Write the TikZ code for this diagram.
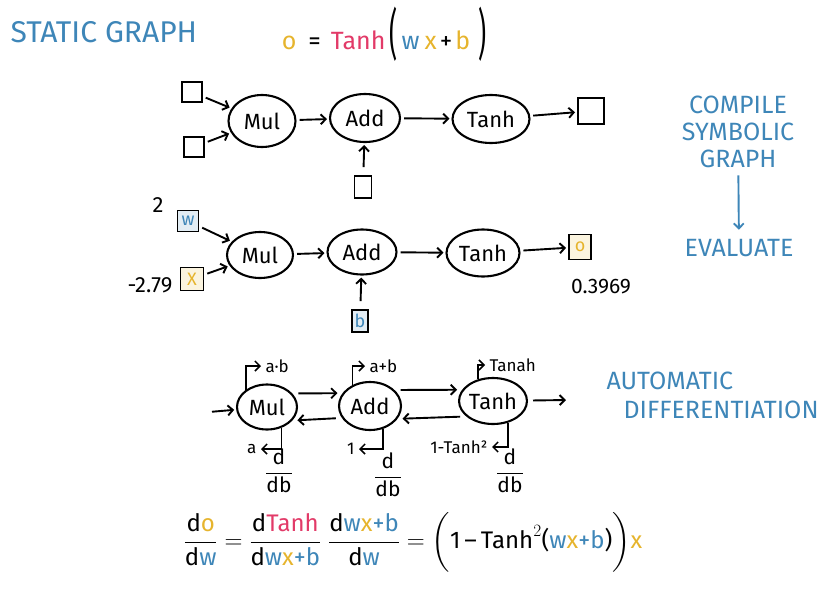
\documentclass[tikz,border=0pt]{standalone}
\usepackage{amsmath}
\usepackage{fontspec}
\setmainfont{Fira Sans}
\usepackage{xcolor}
\usetikzlibrary{arrows.meta,shapes.geometric}
\definecolor{skyblue}{RGB}{62,134,184}
\definecolor{goldy}{RGB}{230,180,45}
\definecolor{rosy}{RGB}{226,58,104}

\begin{document}
\begin{tikzpicture}[x=1pt,y=-1pt,
  op/.style={draw,ellipse,line width=2.1pt,inner sep=0pt,minimum width=68pt,
             minimum height=48pt,font=\fontsize{22}{24}\selectfont},
  box/.style={draw,line width=1.9pt,minimum size=21pt,inner sep=0pt,
              font=\fontsize{18}{18}\selectfont},
  arr/.style={-{Straight Barb[length=5pt,width=10pt]},line width=1.9pt,
              shorten >=2pt,shorten <=3pt},
  note/.style={text=skyblue,align=center,font=\fontsize{25}{27}\selectfont},
  lbl/.style={font=\fontsize{17}{18}\selectfont}]
  \useasboundingbox (0,0) rectangle (835,589);

  \node[note,font=\fontsize{30}{30}\selectfont,anchor=west] (title) at (7,32) {STATIC GRAPH};
  \node[font=\fontsize{25}{26}\selectfont] (formula) at (384,34)
    {\textcolor{goldy}{o}\hspace{12pt}=\hspace{10pt}\textcolor{rosy}{Tanh}\hspace{4pt}\raisebox{-4pt}{\scalebox{1}[2.2]{(}}\,\textcolor{skyblue}{w}\hspace{5pt}\textcolor{goldy}{x}\hspace{3pt}+\hspace{3pt}\textcolor{goldy}{b}\hspace{8pt}\raisebox{-4pt}{\scalebox{1}[2.2]{)}}};

  \node[box,minimum size=20pt] (i1) at (192,92) {};
  \node[box,minimum size=20pt] (i2) at (194,147) {};
  \node[op,minimum width=67pt,minimum height=52pt] (mul1) at (262,121) {Mul};
  \node[op,minimum width=70pt] (add1) at (365,118) {Add};
  \node[op,minimum width=77pt] (tanh1) at (491,119) {Tanh};
  \node[box,minimum size=26pt] (o1) at (591,111) {};
  \node[box,minimum width=17pt,minimum height=22pt] (b1) at (363,187) {};
  \draw[arr] (i1) -- (mul1);
  \draw[arr] (i2) -- (mul1);
  \draw[arr] (mul1) -- (add1);
  \draw[arr] (add1) -- (tanh1);
  \draw[arr] (tanh1) -- (o1);
  \draw[arr,shorten <=8pt] (b1) -- (add1);

  \node[box,fill=skyblue!15,text=skyblue] (w2) at (188,221) {w};
  \node[box,minimum size=23pt,fill=goldy!15,text=goldy] (x2) at (192,279) {X};
  \node[lbl,font=\fontsize{22}{22}\selectfont] (wval) at (158,205) {2};
  \node[lbl,font=\fontsize{22}{22}\selectfont] (xval) at (150,285) {-2.79};
  \node[op,minimum width=66pt,minimum height=46pt] (mul2) at (260,255) {Mul};
  \node[op,minimum width=69pt,minimum height=45pt] (add2) at (362,252) {Add};
  \node[op,minimum width=73pt,minimum height=47pt] (tanh2) at (483,253) {Tanh};
  \node[box,minimum width=22pt,minimum height=25pt,fill=goldy!15,text=goldy] (o2) at (580,247) {o};
  \node[lbl,font=\fontsize{21}{22}\selectfont] (oval) at (601,287) {0.3969};
  \node[box,minimum width=16pt,minimum height=22pt,fill=skyblue!15,text=skyblue] (b2) at (360,321) {b};
  \draw[arr] (w2) -- (mul2);
  \draw[arr] (x2) -- (mul2);
  \draw[arr] (mul2) -- (add2);
  \draw[arr] (add2) -- (tanh2);
  \draw[arr] (tanh2) -- (o2);
  \draw[arr,shorten <=8pt] (b2) -- (add2);

  \node[note] (compile) at (738,132) {COMPILE\\SYMBOLIC\\GRAPH};
  \node[note] (evaluate) at (739,248) {EVALUATE};
  \draw[arr,skyblue,shorten <=4pt,shorten >=6pt] (compile) -- (evaluate);

  \coordinate (in3) at (209,412);
  \coordinate (out3) at (568,400);
  \node[op,minimum width=60pt,minimum height=45pt] (mul3) at (267,407) {Mul};
  \node[op,minimum width=62pt,minimum height=48pt] (add3) at (370,406) {Add};
  \node[op,minimum width=67pt,minimum height=46pt] (tanh3) at (493,401) {Tanh};
  \draw[arr] (in3) -- (mul3);
  \draw[arr,shorten <=6pt,shorten >=5pt] (mul3.28) -- (add3.155);
  \draw[arr,shorten <=6pt,shorten >=5pt] (add3.203) -- (mul3.-28);
  \draw[arr,shorten <=6pt,shorten >=5pt] (add3.33) -- (tanh3.160);
  \draw[arr,shorten <=6pt,shorten >=5pt] (tanh3.210) -- (add3.-25);
  \draw[arr,shorten <=5pt] (tanh3) -- (out3);

  \node[lbl,anchor=west] (fab) at (262,366) {a·b};
  \node[lbl,anchor=west] (fadd) at (366,366) {a+b};
  \node[lbl,anchor=west] (ftanh) at (486,365) {Tanah};
  \draw[arr,line width=1.5pt,shorten <=0pt,shorten >=1pt] (mul3.140) |- (fab.west);
  \draw[arr,line width=1.5pt,shorten <=0pt,shorten >=1pt] (add3.130) |- (fadd.west);
  \draw[arr,line width=1.5pt,shorten <=0pt,shorten >=1pt] (tanh3.125) |- (ftanh.west);

  \node[lbl,anchor=east] (gab) at (260,449) {a};
  \node[lbl,anchor=east] (gadd) at (358,449) {1};
  \node[lbl,anchor=east] (gtanh) at (491,447) {1-Tanh²};
  \draw[arr,line width=1.5pt,shorten <=0pt,shorten >=1pt] (mul3.-55) |- (gab.east);
  \draw[arr,line width=1.5pt,shorten <=0pt,shorten >=1pt] (add3.-60) |- (gadd.east);
  \draw[arr,line width=1.5pt,shorten <=0pt,shorten >=1pt] (tanh3.-55) |- (gtanh.east);
  \node[lbl,font=\fontsize{21}{22}\selectfont] (dmul) at (279,471) {$\dfrac{\text{d}}{\text{db}}$};
  \node[lbl,font=\fontsize{21}{22}\selectfont] (dadd) at (388,475) {$\dfrac{\text{d}}{\text{db}}$};
  \node[lbl,font=\fontsize{21}{22}\selectfont] (dtanh) at (510,471) {$\dfrac{\text{d}}{\text{db}}$};

  \node[note,anchor=west] (auto) at (603,381) {AUTOMATIC};
  \node[note,anchor=west] (diff) at (620,410) {DIFFERENTIATION};

  \node[font=\fontsize{24}{26}\selectfont] (chain) at (413,542)
    {$\dfrac{\text{d\textcolor{goldy}{o}}}{\text{d\textcolor{skyblue}{w}}}
     = \dfrac{\text{d\textcolor{rosy}{Tanh}}}{\text{d\textcolor{skyblue}{w}\textcolor{goldy}{x}\textcolor{skyblue}{+b}}}
     \;\dfrac{\text{d\textcolor{skyblue}{w}\textcolor{goldy}{x}\textcolor{skyblue}{+b}}}{\text{d\textcolor{skyblue}{w}}}
     = \biggl(\text{1\,–\,Tanh}^2\text{(\textcolor{skyblue}{w}\textcolor{goldy}{x}\textcolor{skyblue}{+b})}\biggr)\text{\textcolor{goldy}{x}}$};
\end{tikzpicture}
\end{document}
